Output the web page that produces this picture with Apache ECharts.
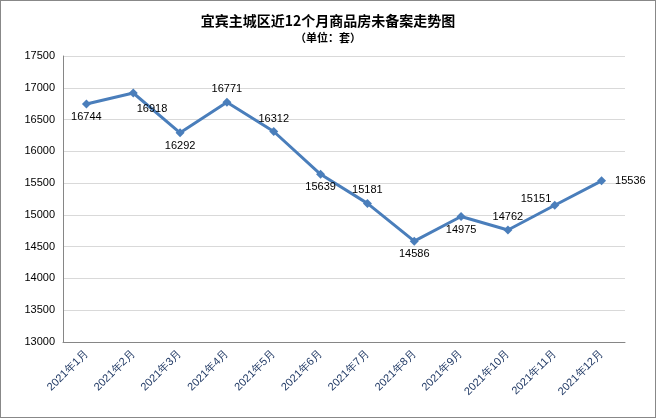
<!DOCTYPE html>
<html><head><meta charset="utf-8">
<script src="https://cdn.jsdelivr.net/npm/echarts@6/dist/echarts.min.js"></script>
<style>html,body{margin:0;padding:0;background:#fff}#c{width:656px;height:418px;box-sizing:border-box;border:1px solid #888}</style>
</head><body><div id="c"></div>
<script>
const categories=['2021年1月','2021年2月','2021年3月','2021年4月','2021年5月','2021年6月','2021年7月','2021年8月','2021年9月','2021年10月','2021年11月','2021年12月'];
const values=[16744,16918,16292,16771,16312,15639,15181,14586,14975,14762,15151,15536];
const labelPos=['bottom','right','bottom','top','top','bottom','top','bottom','bottom','top','left','right'];
const labelOffset=[[0,0],[-4,16],[0,0],[0,0],[0,0],[0,0],[0,0],[0,0],[0,0],[0,0],[4,-6],[6,0]];
const chart=echarts.init(document.getElementById('c'));
chart.setOption({
  animation:false,
  title:{text:'宜宾主城区近12个月商品房未备案走势图',subtext:'（单位：套）',left:'center',top:8,itemGap:4,
    textStyle:{fontSize:14,fontWeight:'bold',color:'#000',fontFamily:'Noto Sans CJK SC'},
    subtextStyle:{fontSize:11,fontWeight:'bold',color:'#000',fontFamily:'Noto Sans CJK SC'}},
  grid:{left:62,right:30,top:55,bottom:75},
  xAxis:{type:'category',data:categories,boundaryGap:true,
    axisLine:{lineStyle:{color:'#868686'}},axisTick:{show:false},
    axisLabel:{rotate:45,color:'#1f3864',fontSize:11,interval:0,margin:10}},
  yAxis:{type:'value',min:13000,max:17500,interval:500,
    axisLine:{show:true,lineStyle:{color:'#868686'}},
    axisLabel:{color:'#000',fontSize:11,formatter:v=>String(v)},
    splitLine:{lineStyle:{color:'#d9d9d9'}}},
  series:[{type:'line',data:values.map((v,i)=>({value:v,label:{position:labelPos[i],offset:labelOffset[i]}})),
    symbol:'diamond',symbolSize:9,
    lineStyle:{color:'#4a7ebb',width:3},itemStyle:{color:'#4a7ebb'},
    label:{show:true,color:'#000',fontSize:11,distance:3}}]
});
</script></body></html>
